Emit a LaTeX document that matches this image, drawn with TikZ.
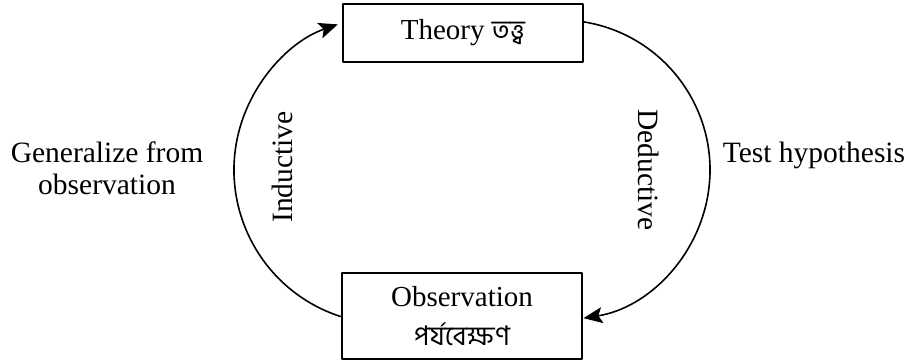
\documentclass[tikz,border=0pt]{standalone}
\usepackage{fontspec}
\setmainfont{Liberation Serif}
\newfontfamily\bangla[Script=Bengali]{Hind Siliguri}
\usetikzlibrary{arrows.meta,calc}

\begin{document}
\begin{tikzpicture}[
  x=1pt, y=1pt,
  >={Stealth[length=19pt,width=16pt,inset=4pt]},
  line cap=round,
  line join=round,
  every node/.style={font=\fontsize{29.5}{32}\selectfont},
  stage/.style={draw, line width=1.8pt, minimum width=240pt, inner sep=0pt, align=center,
    font=\fontsize{29}{33}\selectfont},
  cyclearc/.style={->, line width=1.6pt}
]
  \useasboundingbox (0,0) rectangle (912,363);

  \coordinate (indc) at (388,193);
  \coordinate (dedc) at (560,193);

  \node[stage, minimum height=58pt] (thy) at (463,330) {Theory\ {\bangla\fontsize{27}{33}\selectfont তত্ত্ব}};
  \node[stage, minimum height=86pt] (obs) at (462,47) {Observation\\[6pt]{\bangla\fontsize{27}{33}\selectfont পর্যবেক্ষণ}};

  % Two halves of the cycle
  \draw[cyclearc] ($(indc)+(252:154)$) arc[start angle=252, end angle=109, radius=154];
  \draw[cyclearc] ($(dedc)+(81:150)$) arc[start angle=81, end angle=-81, radius=150];

  \node[rotate=90]  (ind) at (282,196) {Inductive};
  \node[rotate=-90] (ded) at (649,193) {Deductive};

  \node[align=center] (gen)  at (107,195) {Generalize from\\observation};
  \node[anchor=base]  (test) at (814,200) {Test hypothesis};
\end{tikzpicture}
\end{document}
